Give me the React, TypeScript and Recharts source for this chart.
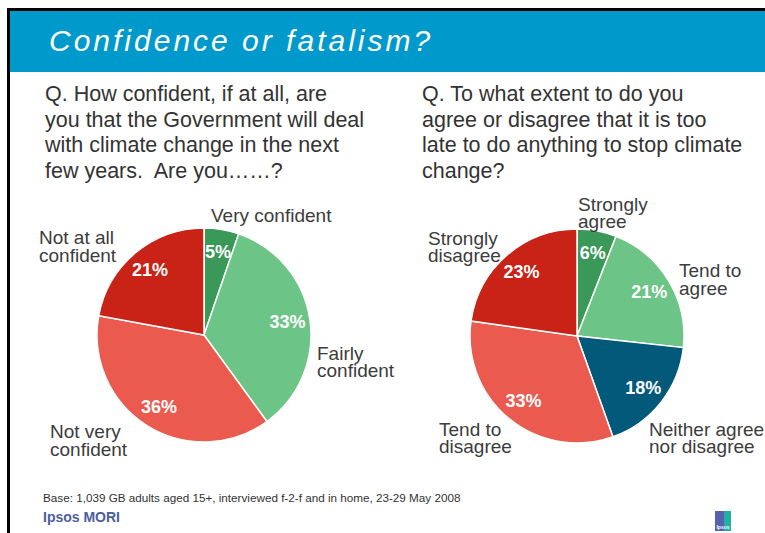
import React from 'react';
import { Cell, Pie, PieChart } from 'recharts';

// Left pie: "How confident ... Government will deal with climate change"
const CONF_NAMES = ['Very confident', 'Fairly\nconfident', 'Not very\nconfident', 'Not at all\nconfident'];
const CONF_VALUES = [5, 33, 36, 21];

// Right pie: "too late to do anything to stop climate change"
const LATE_NAMES = ['Strongly\nagree', 'Tend to\nagree', 'Neither agree\nnor disagree', 'Tend to\ndisagree', 'Strongly\ndisagree'];
const LATE_VALUES = [6, 21, 18, 33, 23];

const CONF_COLORS = ['#3a9858', '#6cc486', '#eb5a4f', '#c92216'];
const LATE_COLORS = ['#3a9858', '#6cc486', '#02597a', '#eb5a4f', '#c92216'];

// where the category names sit, relative to the pie centre (placed by hand on the slide)
const CONF_NAME_POS = [[7, -113.5], [113, 25], [-154, 103.3], [-165, -90.7]];
const LATE_NAME_POS = [[1, -125.3], [102, -58.7], [72, 100], [-138, 100], [-149, -91]];

const RAD = Math.PI / 180;
const FONT = '"Liberation Sans", Arial, sans-serif';

const confData = CONF_NAMES.map((name, i) => ({ name, value: CONF_VALUES[i] }));
const lateData = LATE_NAMES.map((name, i) => ({ name, value: LATE_VALUES[i] }));

const makeLabel = (pos: number[][]) => (props: any) => {
  const { cx, cy, midAngle, outerRadius, index, value, name } = props;
  const r = outerRadius * 0.79;
  const x = cx + r * Math.cos(-midAngle * RAD);
  const y = cy + r * Math.sin(-midAngle * RAD);
  const [dx, dy] = pos[index];
  const lines = String(name).split('\n');
  return (
    <g>
      <text x={x} y={y} fill="#fff" fontWeight="bold" fontSize={18} fontFamily={FONT} textAnchor="middle" dominantBaseline="central">
        {value}%
      </text>
      <text fill="#3c3c3c" fontSize={19} fontFamily={FONT}>
        {lines.map((l, i) => (
          <tspan key={i} x={cx + dx} y={cy + dy + i * 17.3}>{l}</tspan>
        ))}
      </text>
    </g>
  );
};

export default function App() {
  return (
    <div style={{ position: 'absolute', left: 0, top: 0, width: 765, height: 533, overflow: 'hidden', background: '#fff', fontFamily: FONT }}>
      {/* slide frame + header */}
      <div style={{ position: 'absolute', left: 7, top: 8, width: 765, height: 540, borderTop: '3px solid #000', borderLeft: '3px solid #000' }} />
      <div style={{ position: 'absolute', left: 10, top: 11, width: 755, height: 61, background: '#0099cc' }} />
      <div style={{ position: 'absolute', left: 49, top: 26, fontSize: 30, lineHeight: '30px', fontStyle: 'italic', color: '#fff', letterSpacing: 3, whiteSpace: 'pre' }}>
        Confidence or fatalism?
      </div>

      <div style={{ position: 'absolute', left: 45, top: 82, fontSize: 21.5, lineHeight: '25.7px', color: '#333', whiteSpace: 'pre' }}>
        {'Q. How confident, if at all, are\nyou that the Government will deal\nwith climate change in the next\nfew years.  Are you\u2026\u2026?'}
      </div>
      <div style={{ position: 'absolute', left: 422, top: 82, fontSize: 21.5, lineHeight: '25.7px', color: '#333', whiteSpace: 'pre' }}>
        {'Q. To what extent to do you\nagree or disagree that it is too\nlate to do anything to stop climate\nchange?'}
      </div>

      <div style={{ position: 'absolute', left: 0, top: 0 }}>
        <PieChart width={765} height={533} margin={{ top: 0, right: 0, bottom: 0, left: 0 }}>
          <Pie
            data={confData}
            dataKey="value"
            nameKey="name"
            cx={204}
            cy={335}
            outerRadius={107}
            startAngle={90}
            endAngle={-270}
            stroke="#fff"
            strokeWidth={1.5}
            labelLine={false}
            label={makeLabel(CONF_NAME_POS)}
            isAnimationActive={false}
          >
            {confData.map((d, i) => (
              <Cell key={d.name} fill={CONF_COLORS[i]} />
            ))}
          </Pie>
          <Pie
            data={lateData}
            dataKey="value"
            nameKey="name"
            cx={577}
            cy={336}
            outerRadius={107}
            startAngle={90}
            endAngle={-270}
            stroke="#fff"
            strokeWidth={1.5}
            labelLine={false}
            label={makeLabel(LATE_NAME_POS)}
            isAnimationActive={false}
          >
            {lateData.map((d, i) => (
              <Cell key={d.name} fill={LATE_COLORS[i]} />
            ))}
          </Pie>
        </PieChart>
      </div>

      {/* footer */}
      <div style={{ position: 'absolute', left: 43, top: 491, fontSize: 11.7, lineHeight: '13px', color: '#333', whiteSpace: 'pre' }}>
        Base: 1,039 GB adults aged 15+, interviewed f-2-f and in home, 23-29 May 2008
      </div>
      <div style={{ position: 'absolute', left: 43, top: 509, fontSize: 14, lineHeight: '16px', fontWeight: 'bold', color: '#4c5e9c' }}>
        Ipsos MORI
      </div>
      <div style={{ position: 'absolute', left: 715, top: 511, width: 16, height: 20, background: 'linear-gradient(90deg, #5560b0 0 55%, #22b0a2 55% 100%)' }}>
        <div style={{ position: 'absolute', left: 0, bottom: 1, width: 16, textAlign: 'center', fontSize: 5, lineHeight: '6px', color: '#fff', fontWeight: 'bold' }}>Ipsos</div>
      </div>
    </div>
  );
}
